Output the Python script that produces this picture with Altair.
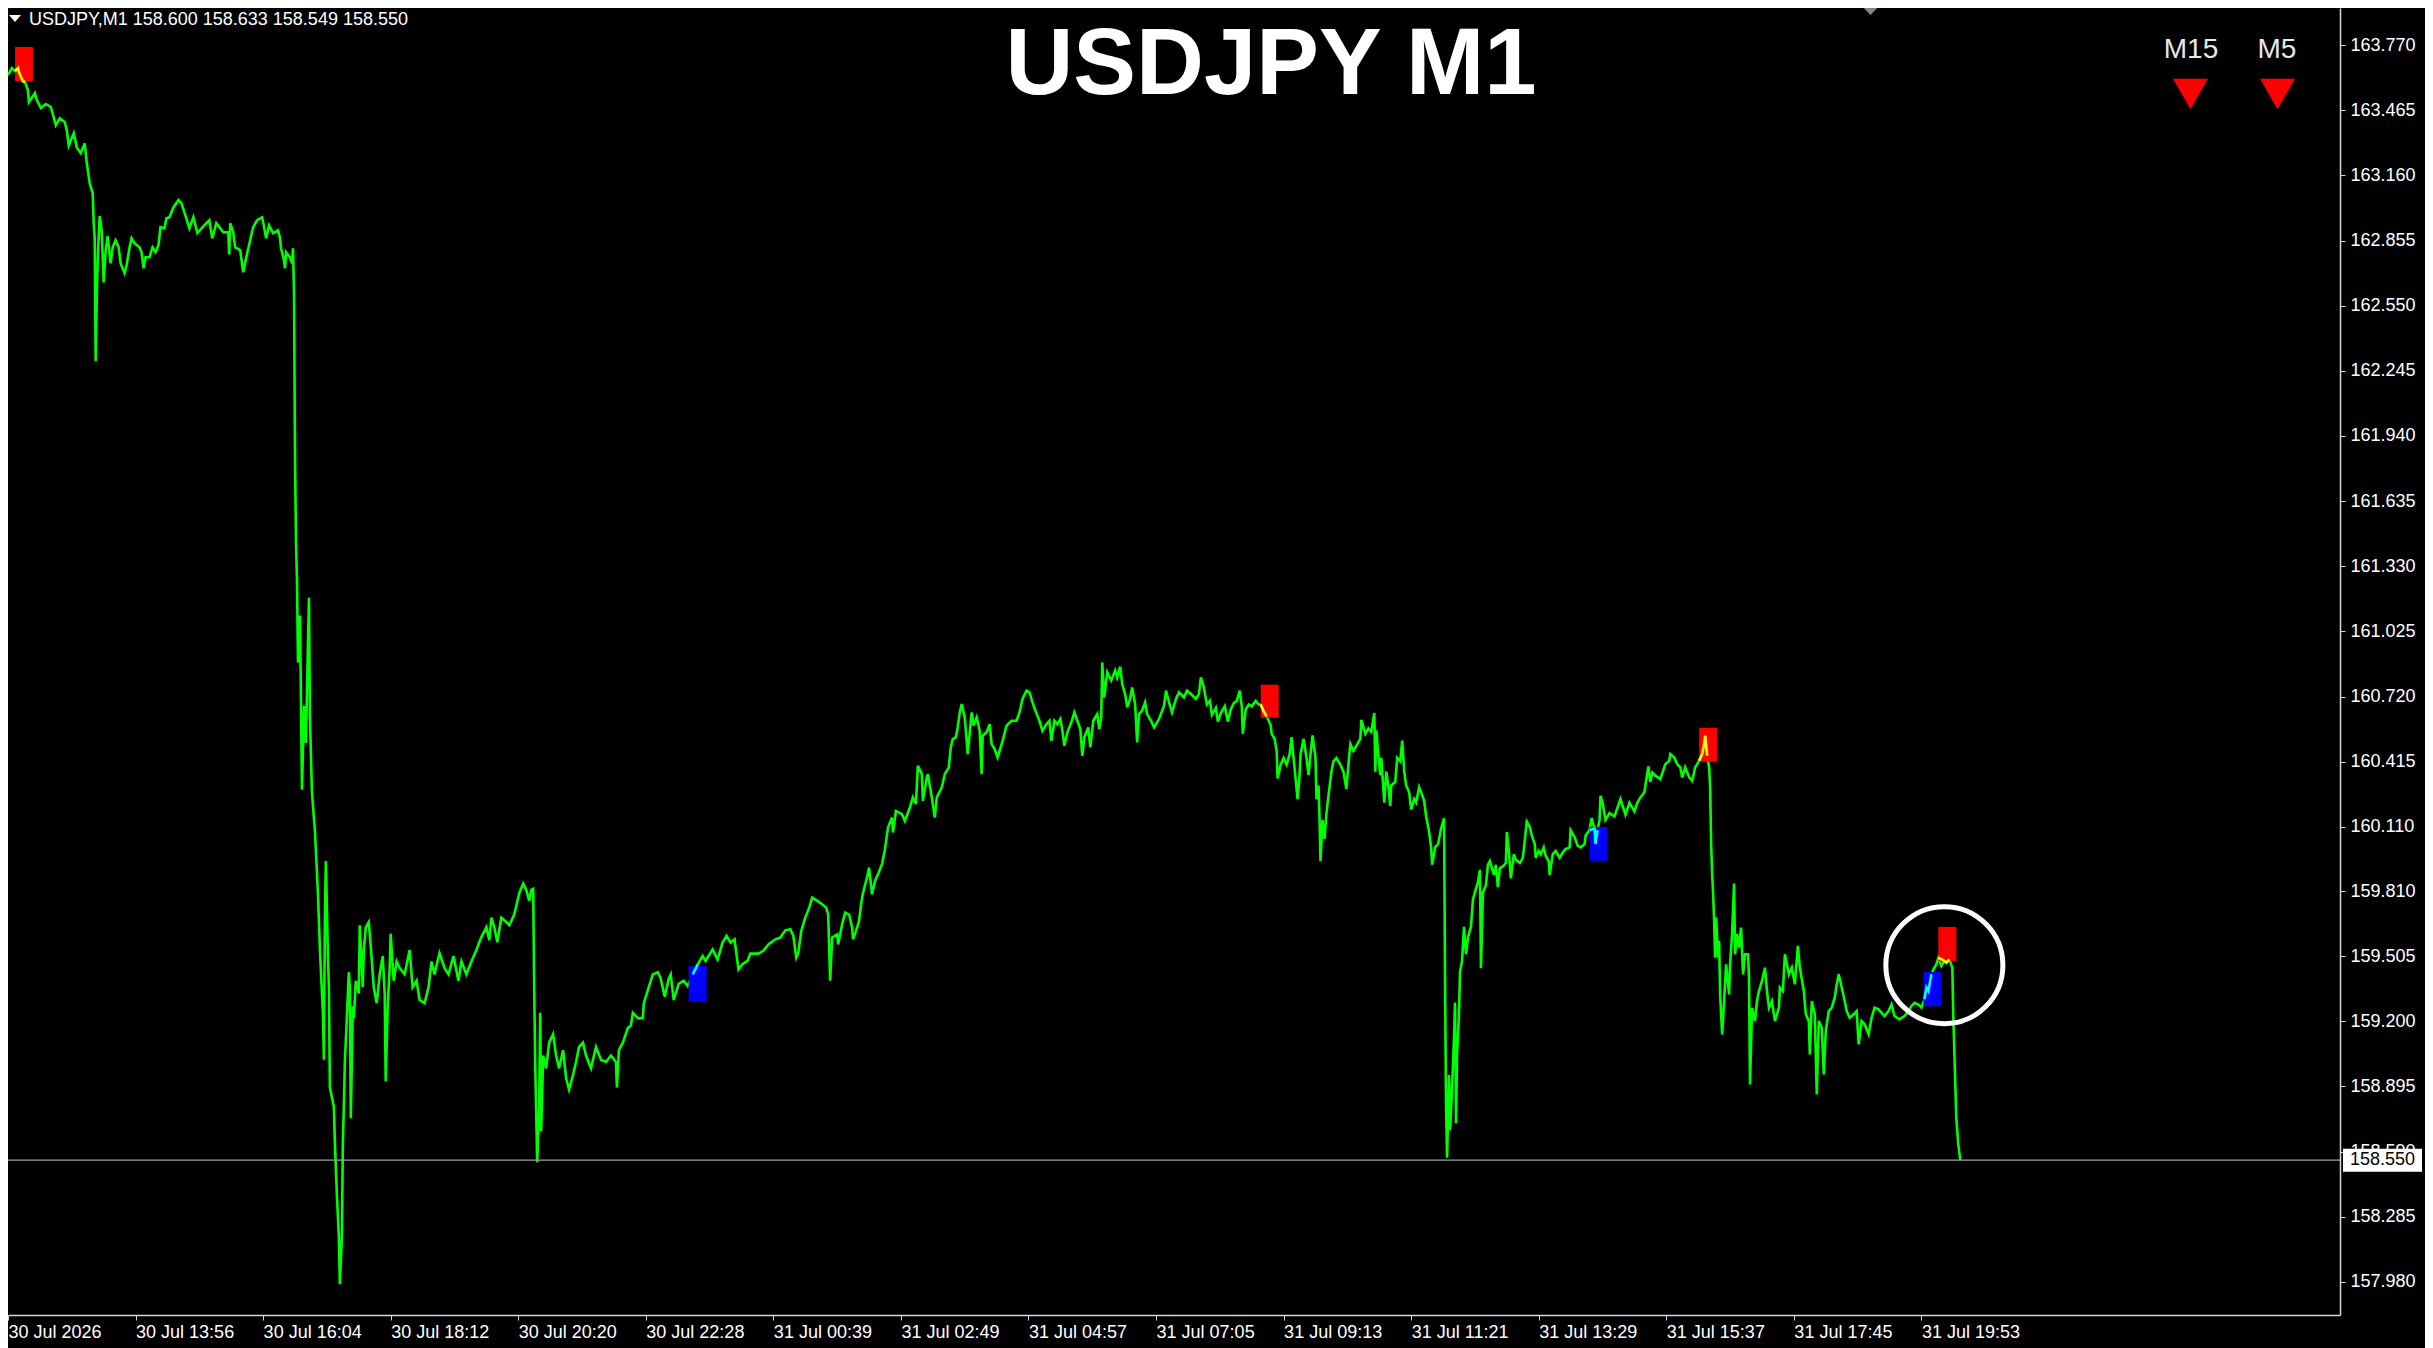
import altair as alt
import pandas as pd

# ---------------- data ----------------
bars = [0, 4, 7, 10, 11, 13, 15, 17, 20, 21, 27, 29, 33, 38, 43, 48, 52, 57, 59, 61, 66, 69, 73, 77, 79, 82,
        85, 86, 87, 88, 89, 90, 91, 92, 94, 96, 98, 100, 103, 105, 108, 111, 113, 117, 119, 122, 124, 127,
        132, 134, 136, 138, 142, 145, 148, 151, 153, 157, 159, 162, 166, 171, 174, 178, 182, 186, 190, 195,
        202, 205, 209, 216, 221, 222, 223, 226, 228, 233, 236, 240, 243, 246, 250, 255, 257, 259, 262, 266,
        271, 273, 274, 277, 278, 279, 283, 285, 286, 287, 288, 289, 290, 291, 293, 294, 295, 297, 299, 301,
        302, 303, 305, 308, 311, 313, 316, 317, 318, 319, 321, 322, 323, 327, 328, 330, 332, 333, 335, 336,
        337, 338, 340, 342, 343, 344, 346, 347, 349, 352, 353, 356, 357, 359, 362, 364, 367, 370, 373, 376,
        378, 379, 381, 383, 384, 387, 390, 393, 398, 403, 406, 410, 413, 418, 422, 425, 428, 433, 438, 442,
        447, 452, 455, 460, 465, 470, 475, 480, 483, 485, 488, 491, 495, 500, 503, 508, 513, 517, 520, 523,
        525, 527, 528, 529, 531, 533, 534, 535, 537, 540, 543, 547, 550, 553, 557, 560, 563, 567, 570, 573,
        577, 580, 585, 590, 595, 600, 605, 610, 611, 613, 617, 622, 625, 627, 632, 637, 638, 642, 647, 652,
        655, 659, 663, 665, 668, 673, 678, 682, 687, 692, 697, 700, 707, 712, 717, 721, 725, 729, 731, 733,
        737, 742, 745, 753, 758, 763, 770, 775, 780, 785, 788, 791, 793, 796, 800, 804, 807, 812, 817, 821,
        823, 825, 827, 832, 833, 837, 840, 844, 847, 848, 852, 854, 856, 858, 862, 864, 867, 870, 873, 877,
        880, 883, 887, 888, 891, 897, 900, 905, 908, 911, 913, 917, 918, 922, 923, 927, 930, 932, 937, 940,
        944, 946, 948, 951, 953, 955, 957, 960, 962, 963, 967, 969, 972, 975, 977, 978, 982, 985, 987, 990,
        993, 998, 1002, 1007, 1012, 1015, 1018, 1022, 1025, 1028, 1031, 1035, 1038, 1042, 1045, 1047, 1050,
        1053, 1056, 1058, 1060, 1063, 1067, 1070, 1073, 1076, 1078, 1080, 1084, 1086, 1089, 1093, 1095, 1097,
        1098, 1100, 1103, 1107, 1111, 1113, 1116, 1118, 1121, 1123, 1126, 1128, 1131, 1133, 1135, 1138, 1141,
        1143, 1147, 1150, 1155, 1160, 1162, 1165, 1168, 1172, 1175, 1180, 1183, 1187, 1192, 1195, 1197, 1200,
        1203, 1206, 1208, 1212, 1214, 1217, 1221, 1224, 1227, 1230, 1233, 1236, 1238, 1239, 1242, 1245, 1248,
        1252, 1255, 1257, 1260, 1263, 1267, 1268, 1271, 1273, 1274, 1277, 1280, 1283, 1286, 1288, 1290, 1293,
        1294, 1296, 1297, 1300, 1303, 1305, 1307, 1309, 1312, 1313, 1315, 1316, 1317, 1319, 1321, 1323, 1325,
        1328, 1330, 1333, 1337, 1340, 1343, 1345, 1347, 1350, 1354, 1357, 1358, 1362, 1365, 1368, 1371, 1372,
        1373, 1375, 1377, 1378, 1381, 1383, 1385, 1387, 1388, 1392, 1394, 1397, 1399, 1401, 1403, 1406, 1408,
        1411, 1413, 1416, 1418, 1421, 1423, 1426, 1428, 1429, 1432, 1435, 1438, 1441, 1442, 1443, 1444, 1446,
        1447, 1449, 1451, 1452, 1453, 1454, 1456, 1457, 1459, 1461, 1463, 1465, 1468, 1470, 1472, 1475, 1477,
        1478, 1480, 1483, 1485, 1487, 1491, 1493, 1495, 1497, 1500, 1503, 1504, 1506, 1508, 1511, 1513, 1517,
        1520, 1522, 1524, 1527, 1529, 1532, 1533, 1536, 1538, 1541, 1543, 1546, 1547, 1550, 1553, 1557, 1560,
        1563, 1567, 1568, 1572, 1575, 1578, 1582, 1583, 1587, 1589, 1592, 1593, 1595, 1597, 1598, 1600, 1603,
        1607, 1612, 1615, 1618, 1623, 1627, 1632, 1635, 1638, 1642, 1643, 1646, 1648, 1650, 1653, 1658, 1663,
        1667, 1668, 1672, 1675, 1678, 1680, 1683, 1687, 1690, 1693, 1695, 1697, 1700, 1702, 1703, 1705, 1707,
        1708, 1709, 1710, 1711, 1712, 1713, 1714, 1716, 1717, 1718, 1720, 1722, 1724, 1727, 1728, 1730, 1732,
        1733, 1735, 1737, 1739, 1741, 1743, 1746, 1747, 1748, 1750, 1753, 1755, 1757, 1760, 1763, 1765, 1767,
        1770, 1773, 1777, 1778, 1781, 1783, 1787, 1790, 1793, 1796, 1798, 1802, 1804, 1807, 1808, 1810, 1813,
        1815, 1817, 1820, 1822, 1824, 1827, 1830, 1833, 1835, 1837, 1840, 1843, 1845, 1848, 1852, 1855, 1857,
        1860, 1863, 1867, 1870, 1873, 1877, 1880, 1883, 1887, 1890, 1893, 1898, 1903, 1907, 1910, 1913, 1917,
        1920, 1923, 1925, 1927, 1930, 1933, 1935, 1937, 1940, 1943, 1945, 1948, 1951, 1952, 1953, 1954, 1955,
        1957, 1959]

prices = [163.630, 163.662, 163.648, 163.662, 163.643, 163.620, 163.601, 163.597, 163.559, 163.503, 163.545,
          163.512, 163.475, 163.494, 163.480, 163.395, 163.428, 163.409, 163.370, 163.300, 163.357, 163.291,
          163.264, 163.310, 163.220, 163.123, 163.076, 162.936, 162.866, 162.290, 162.575, 162.763, 162.870,
          162.969, 162.903, 162.659, 162.809, 162.875, 162.748, 162.823, 162.856, 162.823, 162.748, 162.702,
          162.739, 162.823, 162.866, 162.842, 162.823, 162.800, 162.725, 162.777, 162.777, 162.823, 162.800,
          162.833, 162.917, 162.912, 162.959, 162.964, 163.010, 163.044, 163.030, 162.973, 162.912, 162.964,
          162.890, 162.917, 162.950, 162.865, 162.936, 162.894, 162.894, 162.790, 162.936, 162.894, 162.823,
          162.810, 162.706, 162.795, 162.856, 162.917, 162.950, 162.964, 162.917, 162.865, 162.926, 162.889,
          162.903, 162.865, 162.819, 162.762, 162.725, 162.800, 162.776, 162.748, 162.819, 162.613, 161.850,
          161.440, 161.263, 160.880, 161.100, 160.700, 160.284, 160.677, 160.503, 160.970, 161.183, 160.620,
          160.270, 160.090, 159.800, 159.534, 159.240, 159.020, 159.700, 159.950, 159.506, 159.360, 158.890,
          158.800, 158.630, 158.390, 158.190, 157.970, 158.190, 158.630, 158.800, 159.010, 159.215, 159.430,
          159.360, 158.747, 159.270, 159.215, 159.390, 159.330, 159.650, 159.360, 159.534, 159.640, 159.665,
          159.550, 159.360, 159.285, 159.420, 159.506, 159.330, 158.920, 159.270, 159.450, 159.610, 159.390,
          159.480, 159.450, 159.420, 159.534, 159.360, 159.390, 159.300, 159.285, 159.360, 159.480, 159.420,
          159.520, 159.450, 159.420, 159.506, 159.390, 159.480, 159.420, 159.480, 159.534, 159.595, 159.640,
          159.580, 159.685, 159.640, 159.570, 159.685, 159.665, 159.650, 159.700, 159.800, 159.845, 159.815,
          159.765, 159.815, 159.820, 159.360, 159.010, 158.540, 158.800, 159.240, 158.685, 159.040, 158.980,
          159.100, 159.140, 159.040, 158.980, 159.065, 158.935, 158.880, 158.950, 159.010, 159.080, 159.100,
          159.040, 158.980, 159.080, 159.020, 159.010, 159.040, 159.010, 158.890, 159.065, 159.100, 159.170,
          159.180, 159.240, 159.215, 159.215, 159.285, 159.345, 159.420, 159.430, 159.400, 159.315, 159.400,
          159.420, 159.300, 159.375, 159.390, 159.365, 159.420, 159.465, 159.506, 159.483, 159.537, 159.490,
          159.568, 159.600, 159.568, 159.584, 159.514, 159.443, 159.467, 159.483, 159.517, 159.517, 159.530,
          159.560, 159.584, 159.592, 159.626, 159.631, 159.600, 159.498, 159.520, 159.623, 159.686, 159.732,
          159.779, 159.764, 159.748, 159.732, 159.701, 159.390, 159.592, 159.607, 159.560, 159.654, 159.709,
          159.700, 159.639, 159.584, 159.639, 159.670, 159.748, 159.803, 159.873, 159.920, 159.795, 159.857,
          159.889, 159.936, 160.006, 160.107, 160.154, 160.084, 160.185, 160.170, 160.138, 160.201, 160.248,
          160.217, 160.396, 160.357, 160.232, 160.342, 160.357, 160.248, 160.154, 160.248, 160.295, 160.357,
          160.388, 160.482, 160.521, 160.529, 160.576, 160.646, 160.685, 160.623, 160.513, 160.451, 160.646,
          160.584, 160.623, 160.560, 160.357, 160.537, 160.553, 160.591, 160.498, 160.474, 160.435, 160.513,
          160.584, 160.607, 160.607, 160.646, 160.709, 160.748, 160.740, 160.693, 160.654, 160.607, 160.560,
          160.591, 160.607, 160.513, 160.607, 160.591, 160.615, 160.560, 160.490, 160.553, 160.600, 160.646,
          160.607, 160.568, 160.443, 160.529, 160.576, 160.482, 160.607, 160.638, 160.568, 160.623, 160.880,
          160.716, 160.834, 160.795, 160.842, 160.810, 160.860, 160.779, 160.732, 160.670, 160.709, 160.763,
          160.685, 160.506, 160.638, 160.654, 160.693, 160.638, 160.607, 160.576, 160.615, 160.677, 160.748,
          160.693, 160.646, 160.709, 160.740, 160.716, 160.748, 160.732, 160.709, 160.732, 160.810, 160.763,
          160.683, 160.700, 160.635, 160.667, 160.603, 160.643, 160.675, 160.603, 160.660, 160.690, 160.700,
          160.748, 160.675, 160.546, 160.660, 160.683, 160.675, 160.700, 160.683, 160.683, 160.651, 160.627,
          160.587, 160.546, 160.522, 160.466, 160.337, 160.401, 160.433, 160.401, 160.450, 160.530, 160.433,
          160.288, 160.240, 160.353, 160.450, 160.522, 160.433, 160.353, 160.450, 160.538, 160.433, 160.240,
          160.304, 160.159, 159.950, 160.143, 160.054, 160.175, 160.256, 160.369, 160.417, 160.433, 160.401,
          160.369, 160.288, 160.401, 160.498, 160.466, 160.498, 160.522, 160.611, 160.546, 160.571, 160.555,
          160.643, 160.369, 160.562, 160.450, 160.353, 160.433, 160.224, 160.369, 160.304, 160.208, 160.304,
          160.320, 160.433, 160.417, 160.514, 160.369, 160.304, 160.272, 160.191, 160.240, 160.224, 160.296,
          160.272, 160.232, 160.159, 160.087, 160.014, 159.933, 160.014, 160.030, 160.103, 160.151, 159.384,
          158.800, 158.562, 158.949, 158.691, 158.884, 159.126, 159.288, 158.723, 159.045, 159.240, 159.433,
          159.481, 159.643, 159.514, 159.594, 159.643, 159.772, 159.804, 159.853, 159.909, 159.449, 159.804,
          159.836, 159.933, 159.950, 159.885, 159.933, 159.828, 159.917, 159.925, 159.941, 160.086, 159.998,
          159.869, 159.982, 159.957, 159.941, 159.965, 160.046, 160.135, 160.111, 160.070, 160.030, 159.965,
          159.998, 159.982, 160.014, 159.974, 159.950, 159.885, 159.982, 159.998, 159.965, 159.990, 160.006,
          160.014, 160.095, 160.062, 160.022, 160.014, 160.030, 160.070, 160.095, 160.151, 160.103, 160.030,
          160.095, 160.143, 160.256, 160.224, 160.143, 160.175, 160.159, 160.200, 160.240, 160.167, 160.224,
          160.183, 160.224, 160.248, 160.272, 160.304, 160.393, 160.320, 160.365, 160.350, 160.334, 160.404,
          160.420, 160.451, 160.435, 160.404, 160.389, 160.342, 160.389, 160.342, 160.326, 160.389, 160.404,
          160.420, 160.451, 160.498, 160.537, 160.443, 160.389, 160.295, 160.029, 159.889, 159.795, 159.670,
          159.498, 159.686, 159.498, 159.576, 159.326, 159.139, 159.295, 159.467, 159.326, 159.467, 159.608,
          159.845, 159.514, 159.608, 159.545, 159.639, 159.420, 159.514, 159.514, 159.404, 158.905, 159.264,
          159.201, 159.295, 159.342, 159.389, 159.451, 159.342, 159.264, 159.295, 159.201, 159.264, 159.358,
          159.342, 159.514, 159.420, 159.451, 159.373, 159.553, 159.451, 159.342, 159.233, 159.201, 159.045,
          159.295, 159.233, 158.858, 159.201, 159.170, 158.952, 159.154, 159.248, 159.264, 159.311, 159.373,
          159.420, 159.358, 159.295, 159.248, 159.217, 159.233, 159.248, 159.092, 159.201, 159.186, 159.139,
          159.217, 159.264, 159.256, 159.240, 159.225, 159.248, 159.279, 159.225, 159.209, 159.225, 159.248,
          159.272, 159.287, 159.279, 159.264, 159.303, 159.358, 159.342, 159.420, 159.451, 159.467, 159.498,
          159.459, 159.483, 159.475, 159.490, 159.451, 159.217, 159.061, 158.905, 158.748, 158.623, 158.550]

# signal boxes (bar range and price band)
sig_start = [7, 683, 1257, 1587, 1697, 1922, 1937]
sig_end = [25, 701, 1275, 1605, 1715, 1940, 1955]
sig_hi = [163.761, 159.459, 160.776, 160.110, 160.574, 159.431, 159.642]
sig_lo = [163.601, 159.290, 160.621, 159.951, 160.415, 159.271, 159.482]
sig_kind = ["sell", "buy", "sell", "buy", "sell", "buy", "sell"]

# axes
y_ticks = [163.770, 163.465, 163.160, 162.855, 162.550, 162.245, 161.940, 161.635, 161.330, 161.025,
           160.720, 160.415, 160.110, 159.810, 159.505, 159.200, 158.895, 158.590, 158.285, 157.980]
x_tick_bars = [0, 128, 256, 384, 512, 640, 768, 896, 1024, 1152, 1280, 1408, 1536, 1664, 1792, 1920]
x_tick_labels = ["30 Jul 2026", "30 Jul 13:56", "30 Jul 16:04", "30 Jul 18:12", "30 Jul 20:20",
                 "30 Jul 22:28", "31 Jul 00:39", "31 Jul 02:49", "31 Jul 04:57", "31 Jul 07:05",
                 "31 Jul 09:13", "31 Jul 11:21", "31 Jul 13:29", "31 Jul 15:37", "31 Jul 17:45",
                 "31 Jul 19:53"]

current_price = [158.550]
highlight_bar = [1943]
highlight_price = [159.463]
info_text = ["USDJPY,M1  158.600 158.633 158.549 158.550"]
title_text = ["USDJPY M1"]
tf_labels = ["M15", "M5"]

# ---------------- build tables ----------------
line_df = pd.DataFrame({"bar": bars, "price": prices})
box_df = pd.DataFrame({"start": sig_start, "end": sig_end, "hi": sig_hi, "lo": sig_lo, "kind": sig_kind})

seg_rows = []
for i, (s, e, hi, lo, k) in enumerate(zip(sig_start, sig_end, sig_hi, sig_lo, sig_kind)):
    for b, p in zip(bars, prices):
        if s <= b <= e and lo - 0.012 <= p <= hi + 0.012:
            seg_rows.append({"bar": b, "price": p, "sig": i, "kind": k})
seg_df = pd.DataFrame(seg_rows)

# page has an 8px margin: plot area spans page x 8..2340, y 8..1315
W, H = 2332, 1307
xs = alt.Scale(domain=[0, 2340], nice=False, zero=False)
ys = alt.Scale(domain=[157.8254, 163.9434], nice=False, zero=False)

label_expr = ""
for v, lab in zip(x_tick_bars, x_tick_labels):
    label_expr += f"datum.value == {v} ? '{lab}' : "
label_expr += "''"

FONT = "Liberation Sans"

x_axis = alt.Axis(values=x_tick_bars, labelExpr=label_expr, title=None, grid=False,
                  labelAlign="left", labelFlush=False, labelOverlap=False, labelBound=False,
                  labelColor="white", labelFont=FONT, labelFontSize=18, labelPadding=3,
                  tickColor="#d8d8d8", tickSize=5, domainColor="#d8d8d8", domainWidth=1.5)
y_axis = alt.Axis(values=y_ticks, format=".3f", orient="right", title=None, grid=False,
                  labelFlush=False, labelOverlap=False, labelBound=False,
                  labelColor="white", labelFont=FONT, labelFontSize=18, labelPadding=5,
                  tickColor="#d8d8d8", tickSize=5, domainColor="#d8d8d8", domainWidth=1.5)

line = alt.Chart(line_df).mark_line(color="#00FF00", strokeWidth=2.6).encode(
    x=alt.X("bar:Q", scale=xs, axis=x_axis),
    y=alt.Y("price:Q", scale=ys, axis=y_axis),
)

boxes = alt.Chart(box_df).mark_rect(opacity=1).encode(
    x=alt.X("start:Q", scale=xs, axis=x_axis),
    x2="end:Q",
    y=alt.Y("lo:Q", scale=ys, axis=y_axis),
    y2="hi:Q",
    fill=alt.Fill("kind:N", scale=alt.Scale(domain=["sell", "buy"], range=["#FF0000", "#0000FF"]), legend=None),
)

price_rule = alt.Chart(pd.DataFrame({"p": current_price})).mark_rule(color="#9aa3ad", strokeWidth=1.2).encode(
    y=alt.Y("p:Q", scale=ys, axis=y_axis),
)

segs = alt.Chart(seg_df).mark_line(strokeWidth=2.6).encode(
    x=alt.X("bar:Q", scale=xs, axis=x_axis),
    y=alt.Y("price:Q", scale=ys, axis=y_axis),
    detail="sig:N",
    stroke=alt.Stroke("kind:N", scale=alt.Scale(domain=["sell", "buy"], range=["#FFFF00", "#00FFFF"]), legend=None),
)

circle = alt.Chart(pd.DataFrame({"b": highlight_bar, "p": highlight_price})).mark_point(
    shape="circle", size=13700, filled=False, stroke="white", strokeWidth=5, opacity=1
).encode(
    x=alt.X("b:Q", scale=xs, axis=x_axis),
    y=alt.Y("p:Q", scale=ys, axis=y_axis),
)

price_box = alt.Chart(pd.DataFrame({"p": current_price})).mark_tick(
    color="white", thickness=23, size=79, opacity=1
).encode(
    x=alt.value(2374.5),
    y=alt.Y("p:Q", scale=ys, axis=y_axis),
)
price_text = alt.Chart(pd.DataFrame({"p": current_price})).mark_text(
    align="left", baseline="middle", font=FONT, fontSize=18, color="black"
).encode(
    x=alt.value(2342),
    y=alt.Y("p:Q", scale=ys, axis=y_axis),
    text=alt.Text("p:Q", format=".3f"),
)

# frame decorations (pixel positions relative to the plot area)
shift_mark = alt.Chart(pd.DataFrame({"a": [0]})).mark_point(
    shape="M-1,-0.53L1,-0.53L0,0.53Z", size=361, filled=True, color="#7a8899", opacity=1
).encode(x=alt.value(1862.5), y=alt.value(2))

info_tri = alt.Chart(pd.DataFrame({"a": [0]})).mark_point(
    shape="M-1,-0.6L1,-0.6L0,0.6Z", size=144, filled=True, color="white", opacity=1
).encode(x=alt.value(7), y=alt.value(10.5))
info = alt.Chart(pd.DataFrame({"t": info_text})).mark_text(
    align="left", baseline="alphabetic", font=FONT, fontSize=18, color="white"
).encode(x=alt.value(21), y=alt.value(17), text="t:N")

title = alt.Chart(pd.DataFrame({"t": title_text})).mark_text(
    align="center", baseline="alphabetic", font=FONT, fontSize=94, fontWeight="bold", color="white"
).encode(x=alt.value(1263), y=alt.value(85.5), text="t:N")

tf1 = alt.Chart(pd.DataFrame({"t": [tf_labels[0]]})).mark_text(
    align="center", baseline="alphabetic", font=FONT, fontSize=28, color="#e8e8e8"
).encode(x=alt.value(2183), y=alt.value(50), text="t:N")
tf2 = alt.Chart(pd.DataFrame({"t": [tf_labels[1]]})).mark_text(
    align="center", baseline="alphabetic", font=FONT, fontSize=28, color="#e8e8e8"
).encode(x=alt.value(2269), y=alt.value(50), text="t:N")
tri1 = alt.Chart(pd.DataFrame({"a": [0]})).mark_point(
    shape="triangle-down", size=1225, filled=True, color="#FF0000", opacity=1
).encode(x=alt.value(2182.5), y=alt.value(86))
tri2 = alt.Chart(pd.DataFrame({"a": [0]})).mark_point(
    shape="triangle-down", size=1225, filled=True, color="#FF0000", opacity=1
).encode(x=alt.value(2269.5), y=alt.value(86))

chart = alt.layer(
    line, boxes, price_rule, segs, circle, price_box, price_text,
    shift_mark, info_tri, info, title, tf1, tf2, tri1, tri2,
).properties(
    width=W, height=H,
    autosize=alt.AutoSizeParams(type="none"),
    padding={"left": 0, "top": 0, "right": 85, "bottom": 33},
).configure(
    background="#000000",
    font=FONT,
).configure_view(stroke=None)

chart.save("out.html", embed_options={"renderer": "svg", "actions": False})
